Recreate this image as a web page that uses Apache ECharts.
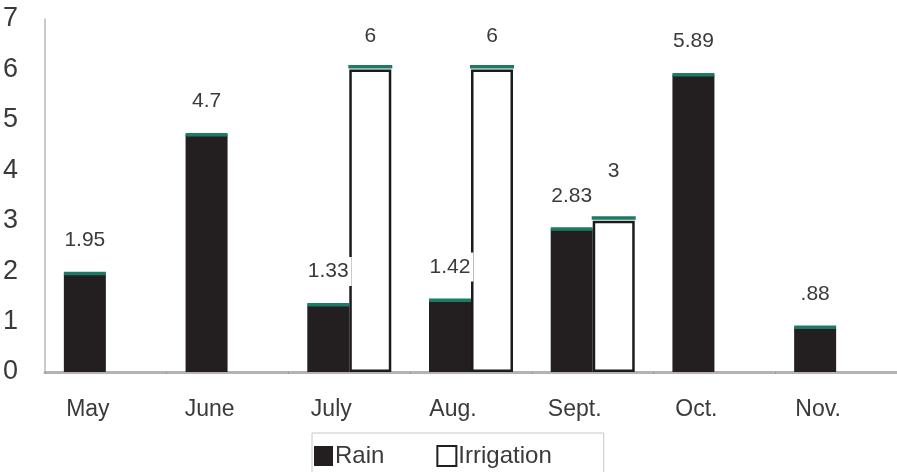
<!DOCTYPE html>
<html>
<head>
<meta charset="utf-8">
<script src="https://cdn.jsdelivr.net/npm/echarts@6/dist/echarts.min.js"></script>
<style>
  html, body { margin: 0; padding: 0; background: #fff; }
  #chart { width: 897px; height: 472px; }
</style>
</head>
<body>
<div id="chart"></div>
<script>
// Monthly water supply (rain vs. irrigation)
const categories = ['May', 'June', 'July', 'Aug.', 'Sept.', 'Oct.', 'Nov.'];
const rain = [1.95, 4.7, 1.33, 1.42, 2.83, 5.89, 0.88];
const irrigation = [null, null, 6, 6, 3, null, null];
const yMin = 0, yMax = 7, yStep = 1;

const FONT = '"Liberation Sans", Arial, sans-serif';
const TEXT = '#3a3a3a';
const BAR_W = 42;
const CAP = '#1d7a64';

// Labels such as 0.88 are printed without the leading zero
function fmt(v) {
  return v < 1 ? String(v).replace(/^0/, '') : String(v);
}

const labelBase = {
  show: true,
  position: 'top',
  distance: 19,
  fontFamily: FONT,
  fontSize: 21,
  color: TEXT,
  backgroundColor: '#fff',
  padding: [4, 3, 4, 3],
  formatter: p => fmt(p.value)
};

// Thin teal cap drawn along the top of each bar
function capSeries(values, side) {
  return {
    type: 'custom',
    silent: true,
    z: 5,
    data: values.map((v, i) => [i, v]).filter(d => d[1] != null),
    encode: { x: 0, y: 1 },
    renderItem: function (params, api) {
      const p = api.coord([api.value(0), api.value(1)]);
      const x = side < 0 ? p[0] - BAR_W : p[0] - 1;
      const w = side < 0 ? BAR_W : BAR_W + 2;
      const y = side < 0 ? p[1] - 2 : p[1] - 4.5;
      return {
        type: 'rect',
        shape: { x: x, y: y, width: w, height: 3.5 },
        style: { fill: CAP }
      };
    }
  };
}

const chart = echarts.init(document.getElementById('chart'));
chart.setOption({
  animation: false,
  backgroundColor: '#fff',
  grid: { left: 43, top: 19, width: 858, height: 353, containLabel: false },
  legend: {
    data: [
      { name: 'Rain', itemStyle: { color: '#231f20', borderWidth: 0 } },
      { name: 'Irrigation', itemStyle: { color: '#fff', borderColor: '#231f20', borderWidth: 2 } }
    ],
    left: 312,
    top: 433,
    itemWidth: 19,
    itemHeight: 20,
    itemGap: 52,
    icon: 'rect',
    padding: [11, 52, 5, 2],
    borderColor: '#c8c8c8',
    borderWidth: 1,
    textStyle: { fontFamily: FONT, fontSize: 24, color: TEXT, padding: [0, 0, 0, -3] }
  },
  xAxis: {
    type: 'category',
    data: categories,
    axisLine: { show: true, lineStyle: { color: '#b5b2b5', width: 3 } },
    axisTick: { show: true, length: 2, lineStyle: { color: '#999' } },
    axisLabel: {
      margin: 26,
      fontFamily: FONT,
      fontSize: 23,
      color: TEXT,
      padding: [0, 36, 0, 0]
    },
    splitLine: { show: false }
  },
  yAxis: {
    type: 'value',
    min: yMin,
    max: yMax,
    interval: yStep,
    axisLine: { show: true, lineStyle: { color: '#b8b8b8', width: 1.5 } },
    axisTick: { show: false },
    splitLine: { show: false },
    axisLabel: {
      align: 'left',
      margin: 42,
      fontFamily: FONT,
      fontSize: 27,
      color: TEXT
    }
  },
  series: [
    {
      name: 'Rain',
      type: 'bar',
      data: rain,
      barWidth: BAR_W,
      barGap: '0%',
      itemStyle: { color: '#231f20' },
      label: labelBase,
      z: 2
    },
    {
      name: 'Irrigation',
      type: 'bar',
      data: irrigation.map((v, i) => (i === 4 && v != null) ? { value: v, label: { distance: 35 } } : v),
      barWidth: BAR_W,
      barGap: '0%',
      itemStyle: { color: '#fff', borderColor: '#1b1b1b', borderWidth: 2.5 },
      label: labelBase,
      z: 2
    },
    capSeries(rain, -1),
    capSeries(irrigation, 1)
  ]
});
</script>
</body>
</html>
